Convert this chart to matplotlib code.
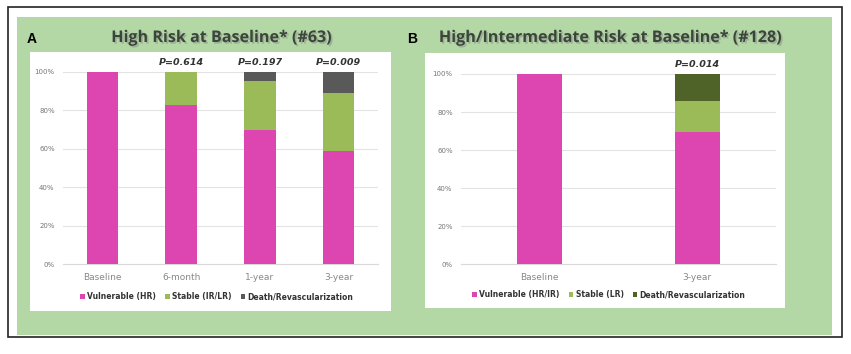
import matplotlib
matplotlib.use("Agg")
import matplotlib.pyplot as plt
import matplotlib.patheffects as pe
from matplotlib.patches import Rectangle
import numpy as np

# ---- data ----
a_categories = ["Baseline", "6-month", "1-year", "3-year"]
a_vulnerable = [100.0, 82.5, 69.8, 58.7]
a_stable = [0.0, 17.5, 25.4, 30.2]
a_death = [0.0, 0.0, 4.8, 11.1]
a_pvalues = ["", "0.614", "0.197", "0.009"]
a_title = "High Risk at Baseline* (#63)"
a_legend = ["Vulnerable (HR)", "Stable (IR/LR)", "Death/Revascularization"]

b_categories = ["Baseline", "3-year"]
b_vulnerable = [100.0, 69.5]
b_stable = [0.0, 16.4]
b_death = [0.0, 14.1]
b_pvalues = ["", "0.014"]
b_title = "High/Intermediate Risk at Baseline* (#128)"
b_legend = ["Vulnerable (HR/IR)", "Stable (LR)", "Death/Revascularization"]

yticks = [0, 20, 40, 60, 80, 100]
ytick_labels = ["0%", "20%", "40%", "60%", "80%", "100%"]

PINK = "#dd45b0"
GREEN = "#9bbb59"
GRAY = "#595959"
DKGREEN = "#4f6228"
BG = "#b4d7a6"

W, H = 851, 354
fig = plt.figure(figsize=(W / 100, H / 100), dpi=100)
fig.patch.set_facecolor("white")


def px_rect(x0, y0, x1, y1):
    return [x0 / W, 1 - y1 / H, (x1 - x0) / W, (y1 - y0) / H]


# green background and border
l, b, w, h = px_rect(17, 17, 832, 335)
fig.patches.append(Rectangle((l, b), w, h, transform=fig.transFigure, facecolor=BG, edgecolor="none", zorder=0))
l, b, w, h = px_rect(8, 7, 842, 337)
fig.patches.append(Rectangle((l, b), w, h, transform=fig.transFigure, facecolor="none", edgecolor="#222222", lw=1.2, zorder=5))
# white panels
for (x0, y0, x1, y1) in [(30, 52, 391, 311), (425, 53, 785, 308)]:
    l, b, w, h = px_rect(x0, y0, x1, y1)
    fig.patches.append(Rectangle((l, b), w, h, transform=fig.transFigure, facecolor="white", edgecolor="none", zorder=1))

shadow = [pe.SimplePatchShadow(offset=(1.2, -1.2), shadow_rgbFace="#8a8a8a", alpha=0.5), pe.Normal()]


def panel(rect, cats, vul, sta, dea, pvals, width, death_color, legend_labels, leg_y, leg_x):
    ax = fig.add_axes(rect)
    ax.set_zorder(3)
    ax.patch.set_alpha(0)
    x = np.arange(len(cats))
    vul = np.array(vul); sta = np.array(sta); dea = np.array(dea)
    b1 = ax.bar(x, vul, width, color=PINK, zorder=3)
    b2 = ax.bar(x, sta, width, bottom=vul, color=GREEN, zorder=3)
    b3 = ax.bar(x, dea, width, bottom=vul + sta, color=death_color, zorder=3)
    ax.set_xlim(-0.5, len(cats) - 0.5)
    ax.set_ylim(0, 100)
    ax.set_yticks(yticks)
    ax.set_yticklabels(ytick_labels, fontsize=5, color="#777777")
    ax.set_xticks(x)
    ax.set_xticklabels(cats, fontsize=6.5, color="#888888")
    ax.tick_params(length=0, pad=6)
    ax.tick_params(axis="y", pad=6)
    for s in ["top", "right", "left"]:
        ax.spines[s].set_visible(False)
    ax.spines["bottom"].set_color("#d9d9d9")
    ax.grid(axis="y", color="#e3e3e3", lw=0.8, zorder=0)
    ax.set_axisbelow(True)
    for xi, p in zip(x, pvals):
        if p:
            ax.annotate("P=" + p, (xi, 100), xytext=(0, 3.5),
                        textcoords="offset points", ha="center", va="bottom",
                        fontsize=6.8, fontweight="bold", fontstyle="italic", color="#333333",
                        annotation_clip=False)
    leg = fig.legend([b1, b2, b3], legend_labels, loc="center", bbox_to_anchor=(leg_x / W, 1 - leg_y / H),
                     ncol=3, frameon=False, fontsize=5.5, handlelength=0.6, handleheight=0.6,
                     handletextpad=0.3, columnspacing=1.2, borderaxespad=0)
    for t in leg.get_texts():
        t.set_color("#333333")
        t.set_fontweight("bold")
    return ax


panel(px_rect(63, 71.7, 378, 264.3), a_categories, a_vulnerable, a_stable, a_death, a_pvalues,
      0.4, GRAY, a_legend, 297, 217)
panel(px_rect(461, 74, 776, 264.3), b_categories, b_vulnerable, b_stable, b_death, b_pvalues,
      0.283, DKGREEN, b_legend, 295, 609)

fig.text(222 / W, 1 - 38 / H, a_title, ha="center", va="center", fontsize=11.6, fontweight="bold",
         color="#3b463b", family="Open Sans", path_effects=shadow, zorder=4)
fig.text(611 / W, 1 - 38 / H, b_title, ha="center", va="center", fontsize=11.6, fontweight="bold",
         color="#3b463b", family="Open Sans", path_effects=shadow, zorder=4)
fig.text(27 / W, 1 - 39 / H, "A", ha="left", va="center", fontsize=10, fontweight="bold", color="black",
         family="Liberation Sans", zorder=4)
fig.text(407 / W, 1 - 39 / H, "B", ha="left", va="center", fontsize=10, fontweight="bold", color="black",
         family="Liberation Sans", zorder=4)

fig.savefig("out.png", dpi=100)
